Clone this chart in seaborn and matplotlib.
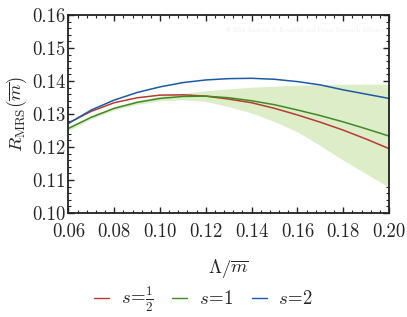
import numpy as np
import pandas as pd
import seaborn as sns
import matplotlib.pyplot as plt
from matplotlib.ticker import MultipleLocator, FormatStrFormatter
from matplotlib.lines import Line2D

# data
lam = [0.06, 0.07, 0.08, 0.09, 0.10, 0.11, 0.12, 0.13, 0.14, 0.15, 0.16, 0.17, 0.18, 0.19, 0.20]
r_half = [0.1273, 0.1308, 0.1334, 0.1349, 0.1357, 0.1358, 0.1354, 0.1345, 0.1334, 0.1317,
          0.1297, 0.1275, 0.1251, 0.1224, 0.1195]
r_one = [0.1256, 0.1290, 0.1317, 0.1335, 0.1347, 0.1353, 0.1354, 0.1349, 0.1340, 0.1328,
         0.1312, 0.1295, 0.1276, 0.1255, 0.1233]
r_two = [0.1271, 0.1312, 0.1342, 0.1365, 0.1382, 0.1395, 0.1403, 0.1407, 0.1408, 0.1405,
         0.1398, 0.1388, 0.1373, 0.1360, 0.1347]
band_hi = [0.1262, 0.1295, 0.1322, 0.1341, 0.1354, 0.1363, 0.1370, 0.1376, 0.1381, 0.1384,
           0.1387, 0.1389, 0.1390, 0.1390, 0.1390]
band_lo = [0.1250, 0.1285, 0.1312, 0.1329, 0.1340, 0.1343, 0.1338, 0.1322, 0.1303, 0.1277,
           0.1246, 0.1204, 0.1160, 0.1119, 0.1078]
labels = [r'$s\!=\!\frac{1}{2}$', r'$s\!=\!1$', r'$s\!=\!2$']
colors = ['#b83a34', '#3f8a25', '#1b5aa5']

df = pd.DataFrame({
    'lam': lam * 3,
    'R': r_half + r_one + r_two,
    's': [labels[0]] * len(lam) + [labels[1]] * len(lam) + [labels[2]] * len(lam),
})

sns.set_style('ticks')
plt.rcParams['font.family'] = 'serif'
plt.rcParams['font.serif'] = ['cmr10', 'DejaVu Serif']
plt.rcParams['mathtext.fontset'] = 'cm'
plt.rcParams['axes.formatter.use_mathtext'] = True

fig = plt.figure(figsize=(4.07, 3.17), dpi=100)
ax = fig.add_axes([0.168, 0.328, 0.788, 0.625])

ax.fill_between(lam, band_lo, band_hi, color='#dcedc8', lw=0, zorder=1)
sns.lineplot(data=df, x='lam', y='R', hue='s', palette=colors, lw=1.1,
             legend=False, ax=ax, zorder=2)

ax.set_xlim(0.06, 0.20)
ax.set_ylim(0.10, 0.16)
ax.xaxis.set_major_locator(MultipleLocator(0.02))
ax.xaxis.set_minor_locator(MultipleLocator(0.004))
ax.yaxis.set_major_locator(MultipleLocator(0.01))
ax.yaxis.set_minor_locator(MultipleLocator(0.002))
ax.xaxis.set_major_formatter(FormatStrFormatter('%.2f'))
ax.yaxis.set_major_formatter(FormatStrFormatter('%.2f'))
ax.tick_params(which='both', direction='in', top=True, right=True, color='#222222')
ax.tick_params(which='major', length=4, width=1.0, labelsize=13.5)
ax.tick_params(axis='x', which='major', pad=7)
ax.tick_params(axis='y', which='major', pad=2)
ax.tick_params(which='minor', length=2, width=0.8)
for sp in ax.spines.values():
    sp.set_linewidth(1.3)
    sp.set_color('#222222')

ax.set_xlabel(r'$\Lambda/\overline{m}$', fontsize=13.5, labelpad=12)
ax.set_ylabel(r'$R_{\mathrm{MRS}}(\overline{m})$', fontsize=13.5, labelpad=2)

ax.text(0.985, 0.925, '\u00a9 2024 Andreas S. Kronfeld and Fermi Research Alliance',
        transform=ax.transAxes, ha='right', va='center', fontsize=4.5, color='#eeeeee')

handles = [Line2D([], [], color=c, lw=1.0) for c in colors]
fig.legend(handles, labels, loc='center', bbox_to_anchor=(0.5, 0.055), ncol=3,
           frameon=False, fontsize=13.5, handlelength=0.8, handletextpad=0.6,
           columnspacing=1.0)

fig.savefig('out.png', dpi=100)
